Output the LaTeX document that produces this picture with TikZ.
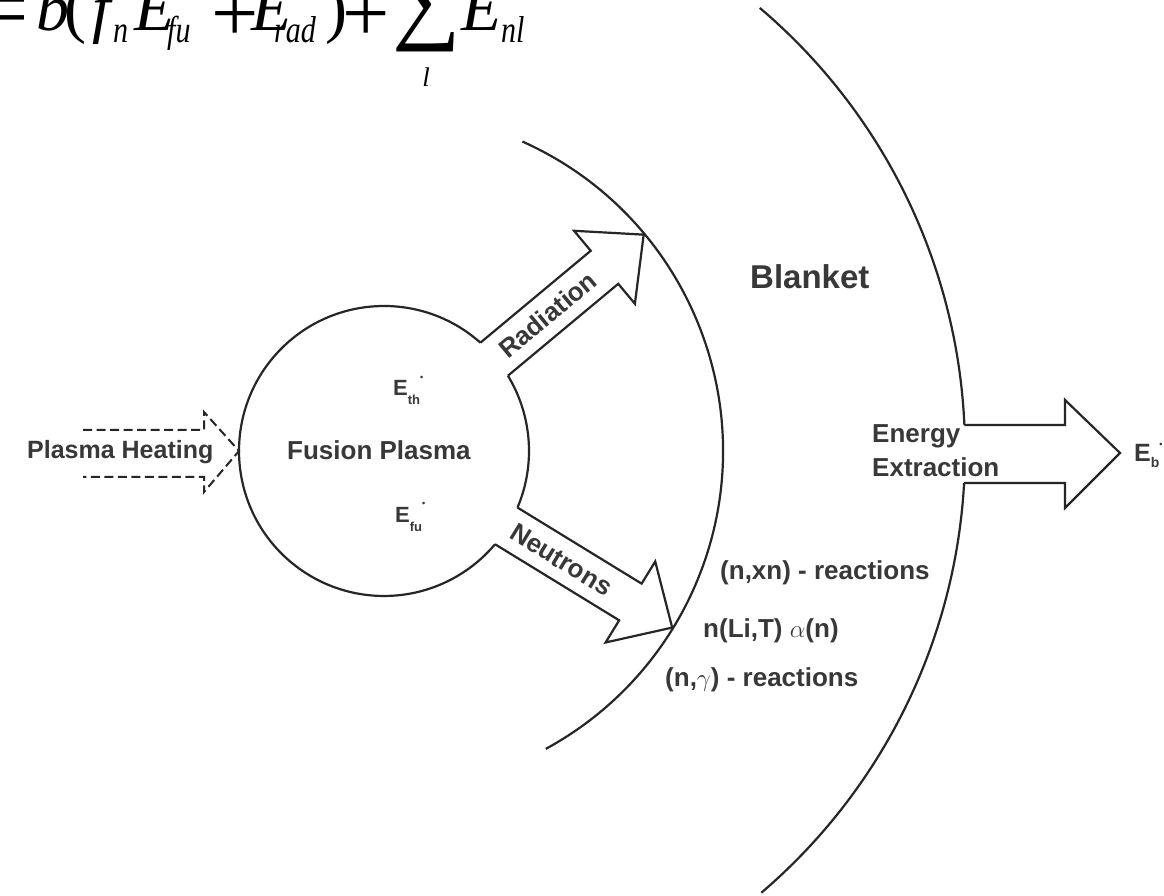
\documentclass[tikz,border=0pt]{standalone}
\usepackage{graphicx}
\usepackage{fontspec}
\setmainfont{Liberation Sans}
\newfontfamily\tms{Liberation Serif}
\usetikzlibrary{calc}
\definecolor{ink}{HTML}{262626}
\definecolor{txt}{HTML}{383838}
\newcommand\vst[1]{\scalebox{1}[1.35]{#1}}
\newcommand\sst[1]{\scalebox{1}[1.25]{#1}}
\tikzset{
  outline/.style={draw=ink, line width=2.2pt, line join=miter},
  dashout/.style={draw=ink, line width=2pt, dash pattern=on 9pt off 4.5pt},
  lbl/.style={font=\bfseries\fontsize{26}{30}\selectfont, text=txt, inner sep=0pt},
  biglbl/.style={font=\bfseries\fontsize{33}{38}\selectfont, text=txt, inner sep=0pt},
  eq/.style={font=\tms\itshape\fontsize{66}{66}\selectfont, text=black, inner sep=0pt},
  eqsub/.style={font=\tms\itshape\fontsize{30}{30}\selectfont, text=black, inner sep=0pt},
  eqlim/.style={font=\tms\itshape\fontsize{27}{27}\selectfont, text=black, inner sep=0pt},
  eqop/.style={font=\tms\fontsize{66}{66}\selectfont, text=black, inner sep=0pt},
  eqplus/.style={font=\tms\fontsize{84}{84}\selectfont, text=black, inner sep=0pt},
  eqsum/.style={font=\tms\fontsize{96}{96}\selectfont, text=black, inner sep=0pt},
}
\begin{document}
\begin{tikzpicture}[x=1pt,y=1pt]
\useasboundingbox (0,0) rectangle (1164,896);
\fill[white] (0,0) rectangle (1164,896);
\coordinate (C) at (384,445);

% formula (cropped at top)
\node[eqop, anchor=base east] (eqeq) at (28,857) {\vst{=}};
\node[eq, anchor=base west] (eqb) at (36,865) {b};
\node[eqop, anchor=base west] (eqlp) at (64,865) {(};
\node[eq, anchor=base west] (eqf) at (92,865) {f};
\node[eqsub, anchor=base west] (eqn) at (113,853) {\sst{n}};
\node[eq, anchor=base west] (eqE1) at (134,865) {E};
\node[eqsub, anchor=base west] (eqfu) at (167,853) {\sst{fu}};
\node[eqplus, anchor=base] (eqp1) at (235,854) {+};
\node[eq, anchor=base west] (eqE2) at (251,865) {E};
\node[eqsub, anchor=base west] (eqrad) at (274,853) {\sst{rad}};
\node[eqop, anchor=base west] (eqrp) at (325,865) {)};
\node[eqplus, anchor=base] (eqp2) at (366,854) {+};
\node[eqsum, anchor=south] (eqsum) at (426.5,844) {∑};
\node[eqlim, anchor=base] (eql) at (426,809) {l};
\node[eq, anchor=base west] (eqE3) at (461,865) {E};
\node[eqsub, anchor=base west] (eqnl) at (501,853) {\sst{nl}};

% plasma circle (open where the arrows leave)
\draw[outline, shift={(C)}] (48.33:145) arc[start angle=48.33, end angle=319.97, radius=145];
\draw[outline, shift={(C)}] (-22.97:145) arc[start angle=-22.97, end angle=31.27, radius=145];

% radiation arrow
\begin{scope}[shift={(C)}, rotate=39.8]
  \draw[outline] (143.4,21.5) -- (287,21.5) -- (287,47.5) -- (338,0) -- (287,-47.5) -- (287,-21.5) -- (143.4,-21.5);
  \node[lbl, rotate=39.8] (rad) at (213,0) {Radiation};
\end{scope}

% neutron arrow
\begin{scope}[shift={(C)}, rotate=-31.5]
  \draw[outline] (143.4,21.5) -- (289,21.5) -- (289,47.5) -- (338,0) -- (289,-47.5) -- (289,-21.5) -- (143.4,-21.5);
  \node[lbl, rotate=-31.5] (neu) at (208,0) {Neutrons};
\end{scope}

% inner blanket arc
\draw[outline, shift={(C)}] (65.9:339) arc[start angle=65.9, end angle=-61.5, radius=339];

% outer blanket arc with gap for energy extraction
\draw[outline, shift={(C)}] (49.7:581) arc[start angle=49.7, end angle=2.565, radius=581] coordinate (outA);
\draw[outline, shift={(C)}] (-3.157:581) coordinate (outB) arc[start angle=-3.157, end angle=-49.5, radius=581];

% energy extraction arrow
\draw[outline] (outA) -- (1065,471) -- (1065,496) -- (1120,443) -- (1065,388) -- (1065,413) -- (outB);

% plasma heating (dashed)
\coordinate (heatTip) at (239,445);
\draw[dashout] (83,466) -- (204,466) -- (204,484) -- (heatTip) -- (204,404) -- (204,419) -- (83,419);

% labels
\node[lbl, font=\bfseries\fontsize{25}{30}\selectfont, anchor=base west] (heat) at (27,437) {Plasma Heating};
\node[lbl, anchor=base west] (fus) at (287,436) {Fusion Plasma};
\node[anchor=base west, inner sep=0pt, text=txt, font=\bfseries\fontsize{22}{22}\selectfont] (eth) at (393,500)
  {E\raisebox{-9pt}{\fontsize{13}{13}\selectfont th}\raisebox{15pt}{\fontsize{9}{9}\selectfont\textbullet}};
\node[anchor=base west, inner sep=0pt, text=txt, font=\bfseries\fontsize{22}{22}\selectfont] (efu) at (395,373)
  {E\raisebox{-9pt}{\fontsize{13}{13}\selectfont fu}\raisebox{16pt}{\fontsize{9}{9}\selectfont\textbullet}};
\node[biglbl, anchor=base west] (blk) at (750,607) {Blanket};
\node[lbl, anchor=base west] (en1) at (872,453) {Energy};
\node[lbl, anchor=base west] (en2) at (872,419) {Extraction};
\node[anchor=base west, inner sep=0pt, text=txt, font=\bfseries\fontsize{25}{25}\selectfont] (eb) at (1134,434)
  {E\raisebox{-6pt}{\fontsize{14}{14}\selectfont b}\raisebox{14pt}{\fontsize{9}{9}\selectfont\textbullet}};
\node[lbl, anchor=base west] (r1) at (720,316) {(n,xn) - reactions};
\node[lbl, anchor=base west] (r2) at (703,258) {n(Li,T) $\alpha$(n)};
\node[lbl, anchor=base west] (r3) at (665,209) {(n,$\gamma$) - reactions};
\end{tikzpicture}
\end{document}
